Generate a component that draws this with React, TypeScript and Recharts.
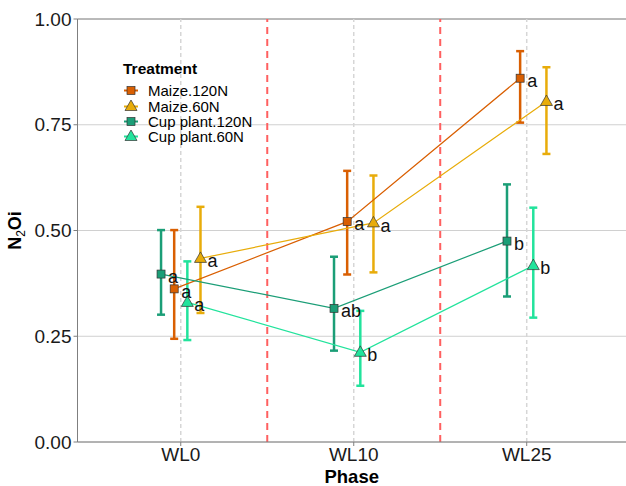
import React from 'react';
import { ComposedChart, Scatter, XAxis, YAxis, CartesianGrid, ReferenceLine, ErrorBar } from 'recharts';

const categories = ['WL0', 'WL10', 'WL25'];
const yTicks = [0, 0.25, 0.5, 0.75, 1];
const phaseBreaks = [1.5, 2.5];

const maize120Mean = [0.362, 0.521, 0.86];
const maize120Low = [0.244, 0.396, 0.755];
const maize120High = [0.501, 0.641, 0.924];
const maize120Letters = ['a', 'a', 'a'];

const maize60Mean = [0.434, 0.518, 0.805];
const maize60Low = [0.305, 0.401, 0.681];
const maize60High = [0.556, 0.63, 0.886];
const maize60Letters = ['a', 'a', 'a'];

const cup120Mean = [0.397, 0.316, 0.475];
const cup120Low = [0.301, 0.216, 0.344];
const cup120High = [0.501, 0.438, 0.609];
const cup120Letters = ['a', 'ab', 'b'];

const cup60Mean = [0.33, 0.212, 0.417];
const cup60Low = [0.241, 0.133, 0.294];
const cup60High = [0.427, 0.31, 0.554];
const cup60Letters = ['a', 'b', 'b'];

const FONT = '"Liberation Sans", Arial, Helvetica, sans-serif';

type Shape = 'square' | 'triangle';

// dodge = position_dodge offset in category units
const series = [
  { name: 'Maize.120N', color: '#D95F02', shape: 'square' as Shape, dodge: -0.038, mean: maize120Mean, low: maize120Low, high: maize120High, letters: maize120Letters },
  { name: 'Maize.60N', color: '#E8AC0A', shape: 'triangle' as Shape, dodge: 0.114, mean: maize60Mean, low: maize60Low, high: maize60High, letters: maize60Letters },
  { name: 'Cup plant.120N', color: '#1B9E77', shape: 'square' as Shape, dodge: -0.114, mean: cup120Mean, low: cup120Low, high: cup120High, letters: cup120Letters },
  { name: 'Cup plant.60N', color: '#22E39C', shape: 'triangle' as Shape, dodge: 0.038, mean: cup60Mean, low: cup60Low, high: cup60High, letters: cup60Letters },
];

const buildData = (s: typeof series[number]) =>
  categories.map((c, i) => ({
    x: i + 1 + s.dodge,
    y: s.mean[i],
    err: [s.mean[i] - s.low[i], s.high[i] - s.mean[i]],
    letter: s.letters[i],
  }));

const Marker = ({ cx, cy, shape, color }: { cx: number; cy: number; shape: Shape; color: string }) => {
  if (shape === 'square') {
    return <rect x={cx - 4} y={cy - 4} width={8} height={8} fill={color} stroke="#333" strokeWidth={0.7} />;
  }
  return (
    <polygon
      points={`${cx},${cy - 6.5} ${cx - 6},${cy + 4} ${cx + 6},${cy + 4}`}
      fill={color}
      stroke="#333"
      strokeWidth={0.7}
    />
  );
};

const YLabel = (props: any) => {
  const vb = props.viewBox || { x: 0, y: 19, width: 77, height: 423 };
  const x = vb.x + 21;
  const cy = vb.y + vb.height / 2;
  return (
    <text
      x={x}
      y={cy}
      transform={`rotate(-90 ${x} ${cy})`}
      textAnchor="middle"
      fontFamily={FONT}
      fontSize={18}
      fontWeight="bold"
      fill="#000"
    >
      <tspan>N</tspan>
      <tspan fontSize={12} fontWeight="normal" dy={4}>2</tspan>
      <tspan dy={-4}>Oi</tspan>
    </text>
  );
};

const LegendBox = () => (
  <div style={{ position: 'absolute', left: 123, top: 59, fontFamily: FONT, color: '#000' }}>
    <div style={{ fontSize: 15.5, fontWeight: 'bold', height: 20, lineHeight: '20px' }}>Treatment</div>
    <div style={{ marginTop: 4 }}>
      {series.map((s) => (
        <div key={s.name} style={{ display: 'flex', alignItems: 'center', height: 15.4 }}>
          <svg width={16} height={15} style={{ marginRight: 9 }}>
            <line x1={1} y1={7.5} x2={15} y2={7.5} stroke={s.color} strokeWidth={2} />
            <Marker cx={8} cy={7.5} shape={s.shape} color={s.color} />
          </svg>
          <span style={{ fontSize: 15, lineHeight: '15px' }}>{s.name}</span>
        </div>
      ))}
    </div>
  </div>
);

export default function App() {
  return (
    <div style={{ position: 'absolute', left: 0, top: 0, width: 626, height: 486, background: '#fff', fontFamily: FONT }}>
      <ComposedChart width={626} height={486} margin={{ top: 19, right: 0, bottom: 0, left: 0 }}>
        <CartesianGrid vertical={false} stroke="#d0d0d0" strokeWidth={1} />
        <XAxis
          type="number"
          dataKey="x"
          domain={[0.403, 3.574]}
          ticks={[1, 2, 3]}
          allowDataOverflow
          tickFormatter={(v) => categories[Math.round(v) - 1] || ''}
          height={44}
          stroke="#7f7f7f"
          tickSize={4}
          tickMargin={2}
          tick={{ fontSize: 19, fill: '#1a1a1a', fontFamily: FONT }}
          label={{ value: 'Phase', position: 'insideBottom', offset: 3, fontSize: 18.5, fontWeight: 'bold', fill: '#000', fontFamily: FONT }}
        />
        <YAxis
          type="number"
          dataKey="y"
          domain={[0, 1]}
          ticks={yTicks}
          allowDataOverflow
          tickFormatter={(v) => Number(v).toFixed(2)}
          width={77.5}
          stroke="#7f7f7f"
          tickSize={4}
          tickMargin={2}
          tick={{ fontSize: 19, fill: '#1a1a1a', fontFamily: FONT }}
          label={{ content: <YLabel /> }}
        />
        <ReferenceLine y={1} stroke="#8c8c8c" strokeWidth={1.2} />
        {categories.map((c, i) => (
          <ReferenceLine key={c} x={i + 1} stroke="#d6d6d6" strokeWidth={1.5} strokeDasharray="4 3" />
        ))}
        {phaseBreaks.map((b) => (
          <ReferenceLine key={b} x={b} stroke="#FF6060" strokeWidth={2} strokeDasharray="7 5" />
        ))}
        {series.map((s) => (
          <Scatter
            key={s.name}
            name={s.name}
            data={buildData(s)}
            line={{ stroke: s.color, strokeWidth: 1.2 }}
            lineJointType="linear"
            isAnimationActive={false}
            shape={(p: any) => <Marker cx={p.cx} cy={p.cy} shape={s.shape} color={s.color} />}
          >
            <ErrorBar dataKey="err" direction="y" width={4} stroke={s.color} strokeWidth={2.5} isAnimationActive={false} />
          </Scatter>
        ))}
        {series.map((s) => (
          <Scatter
            key={s.name + '-letters'}
            data={buildData(s)}
            isAnimationActive={false}
            shape={(p: any) => (
              <text x={p.cx + 7} y={p.cy + 2.5} dy="0.35em" fontSize={18} fill="#111" fontFamily={FONT}>
                {p.payload.letter}
              </text>
            )}
          />
        ))}
      </ComposedChart>
      <LegendBox />
    </div>
  );
}
